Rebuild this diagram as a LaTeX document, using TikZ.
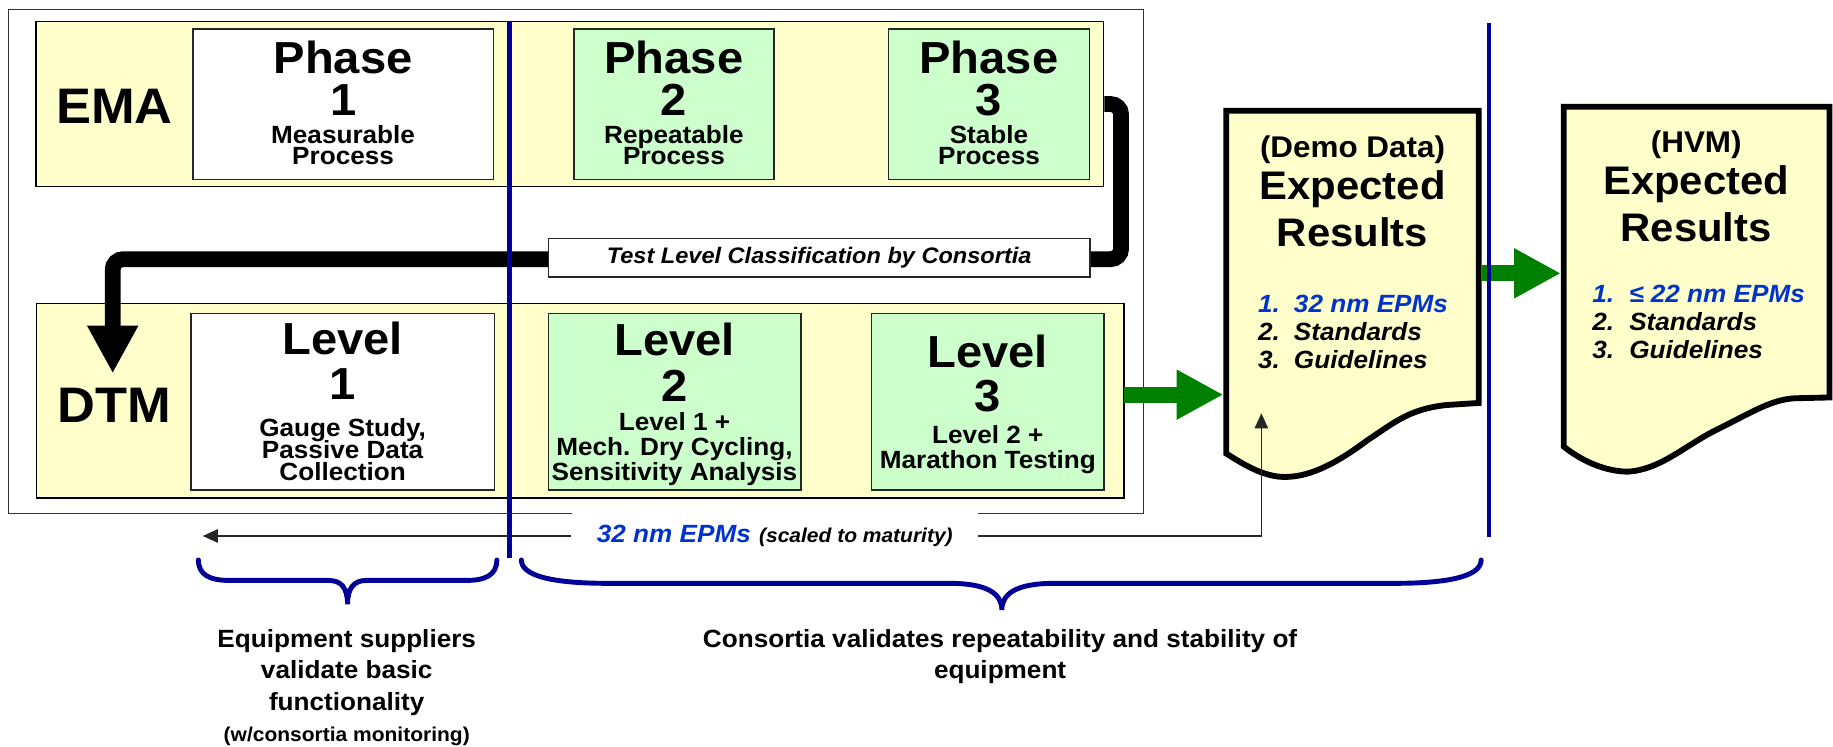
\documentclass[tikz,border=0pt]{standalone}
\usepackage{fontspec}
\setmainfont{Liberation Sans}[FakeStretch=1.05]
\usetikzlibrary{arrows.meta}
\definecolor{bandyellow}{HTML}{FFFFCC}
\definecolor{boxgreen}{HTML}{CCFFCC}
\definecolor{navy}{HTML}{000099}
\definecolor{epmblue}{HTML}{0033CC}
\definecolor{arrowgreen}{HTML}{008000}
\begin{document}
\begin{tikzpicture}[x=1pt,y=-1pt,
  frame/.style={draw=black!80, line width=1.2pt, inner sep=0pt},
  band/.style={draw=black, line width=1.3pt, fill=bandyellow, inner sep=0pt},
  wbox/.style={draw=black!85, line width=1.3pt, fill=white, inner sep=0pt},
  gbox/.style={draw=black!85, line width=1.3pt, fill=boxgreen, inner sep=0pt},
  testbox/.style={draw=black!85, line width=1.2pt, fill=white, inner sep=0pt,
    font=\fontsize{19.2}{19.2}\selectfont\bfseries\itshape},
  tbig/.style={font=\fontsize{42.7}{42.7}\selectfont\bfseries, anchor=base, inner sep=0pt},
  thead/.style={font=\fontsize{38.4}{38.4}\selectfont\bfseries, anchor=base, inner sep=0pt},
  tsmall/.style={font=\fontsize{21.3}{21.3}\selectfont\bfseries, anchor=base, inner sep=0pt},
  tnote/.style={font=\fontsize{17.1}{17.1}\selectfont\bfseries, anchor=base, inner sep=0pt},
  tdoc/.style={font=\fontsize{25.6}{25.6}\selectfont\bfseries, anchor=base, inner sep=0pt},
  tdocbig/.style={font=\fontsize{34.1}{34.1}\selectfont\bfseries, anchor=base, inner sep=0pt},
  titem/.style={font=\fontsize{21.3}{21.3}\selectfont\bfseries\itshape, anchor=base west, inner sep=0pt},
  bigpath/.style={draw=black, line width=13.5pt, rounded corners=9pt,
    -{Triangle[length=40.8pt,width=40.8pt]}},
  garrow/.style={draw=arrowgreen, line width=13.7pt, -{Triangle[length=40pt,width=40pt]}},
  thinarrow/.style={draw=black!85, line width=1.2pt, -{Triangle[length=13pt,width=11.5pt]}},
  navyline/.style={draw=navy, line width=4pt},
  docshape/.style={draw=black, line width=5pt, fill=bandyellow, line join=miter},
  brace/.style={draw=navy, line width=4.2pt, line cap=round},
  lbl/.style={fill=white, inner sep=0pt, minimum width=347.6pt, minimum height=40pt}
]
\useasboundingbox (0,0) rectangle (1568,639);

% outer frame and bands
\node[frame, minimum width=970.5pt, minimum height=431.5pt] (outer) at (492.75,223.75) {};
\node[band, minimum width=913pt, minimum height=141pt] (emaband) at (487.5,89) {};
\node[band, minimum width=930.1pt, minimum height=166.5pt] (dtmband) at (496.45,342.75) {};

% phase boxes
\node[wbox, minimum width=257pt, minimum height=128.5pt] (p1) at (293.5,89.25) {};
\node[gbox, minimum width=171pt, minimum height=128.5pt] (p2) at (576.5,89.25) {};
\node[gbox, minimum width=172pt, minimum height=128.5pt] (p3) at (846,89.25) {};
% level boxes
\node[wbox, minimum width=259.4pt, minimum height=151pt] (l1) at (293.1,343.5) {};
\node[gbox, minimum width=216pt, minimum height=151pt] (l2) at (577,343.5) {};
\node[gbox, minimum width=198.8pt, minimum height=151pt] (l3) at (845,343.5) {};

% row labels
\node[tbig] (ematxt) at (98,105.3) {EMA};
\node[tbig] (dtmtxt) at (98,361.3) {DTM};

% phase texts
\node[thead] (p1a) at (293.5,63.2) {Phase};
\node[thead] (p1b) at (293.5,99.2) {1};
\node[tsmall] (p1c) at (293.5,122.6) {Measurable};
\node[tsmall] (p1d) at (293.5,141.1) {Process};
\node[thead] (p2a) at (576.5,63.2) {Phase};
\node[thead] (p2b) at (576.5,99.2) {2};
\node[tsmall] (p2c) at (576.5,122.6) {Repeatable};
\node[tsmall] (p2d) at (576.5,141.1) {Process};
\node[thead] (p3a) at (846,63.2) {Phase};
\node[thead] (p3b) at (846,99.2) {3};
\node[tsmall] (p3c) at (846,122.6) {Stable};
\node[tsmall] (p3d) at (846,141.1) {Process};

% level texts
\node[thead] (l1a) at (293.1,303.1) {Level};
\node[thead] (l1b) at (293.1,341.8) {1};
\node[tsmall] (l1c) at (293.1,373.4) {Gauge Study,};
\node[tsmall] (l1d) at (293.1,392.4) {Passive Data};
\node[tsmall] (l1e) at (293.1,411.4) {Collection};
\node[thead] (l2a) at (577,303.7) {Level};
\node[thead] (l2b) at (577,343.1) {2};
\node[tsmall] (l2c) at (577,368.3) {Level 1 +};
\node[tsmall] (l2d) at (577,389.6) {Mech. Dry Cycling,};
\node[tsmall] (l2e) at (577,411.1) {Sensitivity Analysis};
\node[thead] (l3a) at (845,314.5) {Level};
\node[thead] (l3b) at (845,351.7) {3};
\node[tsmall] (l3c) at (845,379.6) {Level 2 +};
\node[tsmall] (l3d) at (845,401.1) {Marathon Testing};

% big black connector
\coordinate (bk1) at (959,89);
\coordinate (bk2) at (959,221.7);
\coordinate (bk3) at (96.4,221.7);
\coordinate (bktip) at (96.4,319.4);
\draw[bigpath] (emaband.east) -- (bk1) -- (bk2) -- (bk3) -- (bktip);
\node[testbox, minimum width=463.5pt, minimum height=33pt] (testlvl) at (700.75,220.5)
  {Test Level Classification by Consortia};

% documents
\draw[docshape] (1049,94.7) -- (1265,94.7) -- (1265,344.7) -- (1237,346.5)
  .. controls (1205,350) and (1192,362) .. (1170,376.4)
  .. controls (1145,395) and (1122,408) .. (1099,408)
  .. controls (1080,408) and (1062,396) .. (1049,388) -- cycle;
\draw[docshape] (1337.7,91.3) -- (1565,91.3) -- (1565,340) -- (1535,340.7)
  .. controls (1515,342) and (1500,352) .. (1468,367.8)
  .. controls (1440,382) and (1420,402) .. (1392,403.5)
  .. controls (1370,403) and (1350,392) .. (1337.7,382) -- cycle;

\node[tdoc] (d1a) at (1157,134.6) {(Demo Data)};
\node[tdocbig] (d1b) at (1157,170.8) {Expected};
\node[tdocbig] (d1c) at (1157,210.5) {Results};
\node[titem, text=epmblue] (d1n1) at (1076,267.6) {1.};
\node[titem, text=epmblue] (d1t1) at (1106.7,267.6) {32 nm EPMs};
\node[titem] (d1n2) at (1076,291.3) {2.};
\node[titem] (d1t2) at (1106.7,291.3) {Standards};
\node[titem] (d1n3) at (1076,315.6) {3.};
\node[titem] (d1t3) at (1106.7,315.6) {Guidelines};

\node[tdoc] (d2a) at (1451,130.3) {(HVM)};
\node[tdocbig] (d2b) at (1451,166.5) {Expected};
\node[tdocbig] (d2c) at (1451,206.5) {Results};
\node[titem, text=epmblue] (d2n1) at (1362,258.6) {1.};
\node[titem, text=epmblue] (d2t1) at (1393.5,258.6) {≤ 22 nm EPMs};
\node[titem] (d2n2) at (1362,282.6) {2.};
\node[titem] (d2t2) at (1393.5,282.6) {Standards};
\node[titem] (d2n3) at (1362,306.4) {3.};
\node[titem] (d2t3) at (1393.5,306.4) {Guidelines};

% green arrows
\coordinate (g1a) at (961.5,337.6);
\coordinate (g1b) at (1046.5,337.6);
\coordinate (g2a) at (1267.5,233.8);
\coordinate (g2b) at (1335.2,233.8);
\draw[garrow] (g1a) -- (g1b);
\draw[garrow] (g2a) -- (g2b);

% EPM feedback line
\node[lbl] (epm) at (662.8,458.5)
  {\bfseries\itshape{\color{epmblue}\fontsize{21.3}{21.3}\selectfont 32 nm EPMs}\hspace{7pt}{\fontsize{17.1}{17.1}\selectfont (scaled to maturity)}};
\coordinate (uptip) at (1079,353.5);
\coordinate (lefttip) at (173.4,458.5);
\draw[thinarrow] (epm.east) -| (uptip);
\draw[thinarrow] (epm.west) -- (lefttip);

% blue dividers
\coordinate (bl1t) at (435.6,18.5);
\coordinate (bl1b) at (435.6,477.6);
\coordinate (bl2t) at (1273.6,20);
\coordinate (bl2b) at (1273.6,459);
\draw[navyline] (bl1t) -- (bl1b);
\draw[navyline] (bl2t) -- (bl2b);

% braces
\draw[brace] (169.7,479) .. controls (169.7,492) and (180,496.5) .. (196,496.5) -- (281,496.5)
  .. controls (292,496.5) and (297.3,503) .. (297.3,517)
  .. controls (297.3,503) and (302.6,496.5) .. (313.6,496.5) -- (399,496.5)
  .. controls (415,496.5) and (425,492) .. (425,479);
\draw[brace] (446,479) .. controls (446,492) and (470,499) .. (520,499) -- (812,499)
  .. controls (845,499) and (857,508) .. (857,521.8)
  .. controls (857,508) and (869,499) .. (902,499) -- (1193,499)
  .. controls (1243,499) and (1267,492) .. (1267,479);

% bottom captions
\node[tsmall] (c1a) at (296.6,553.6) {Equipment suppliers};
\node[tsmall] (c1b) at (296.6,580.6) {validate basic};
\node[tsmall] (c1c) at (296.6,607.6) {functionality};
\node[tnote] (c1d) at (296.6,634.6) {(w/consortia monitoring)};
\node[tsmall] (c2a) at (855.5,553.6) {Consortia validates repeatability and stability of};
\node[tsmall] (c2b) at (855.5,580.6) {equipment};
\end{tikzpicture}
\end{document}
